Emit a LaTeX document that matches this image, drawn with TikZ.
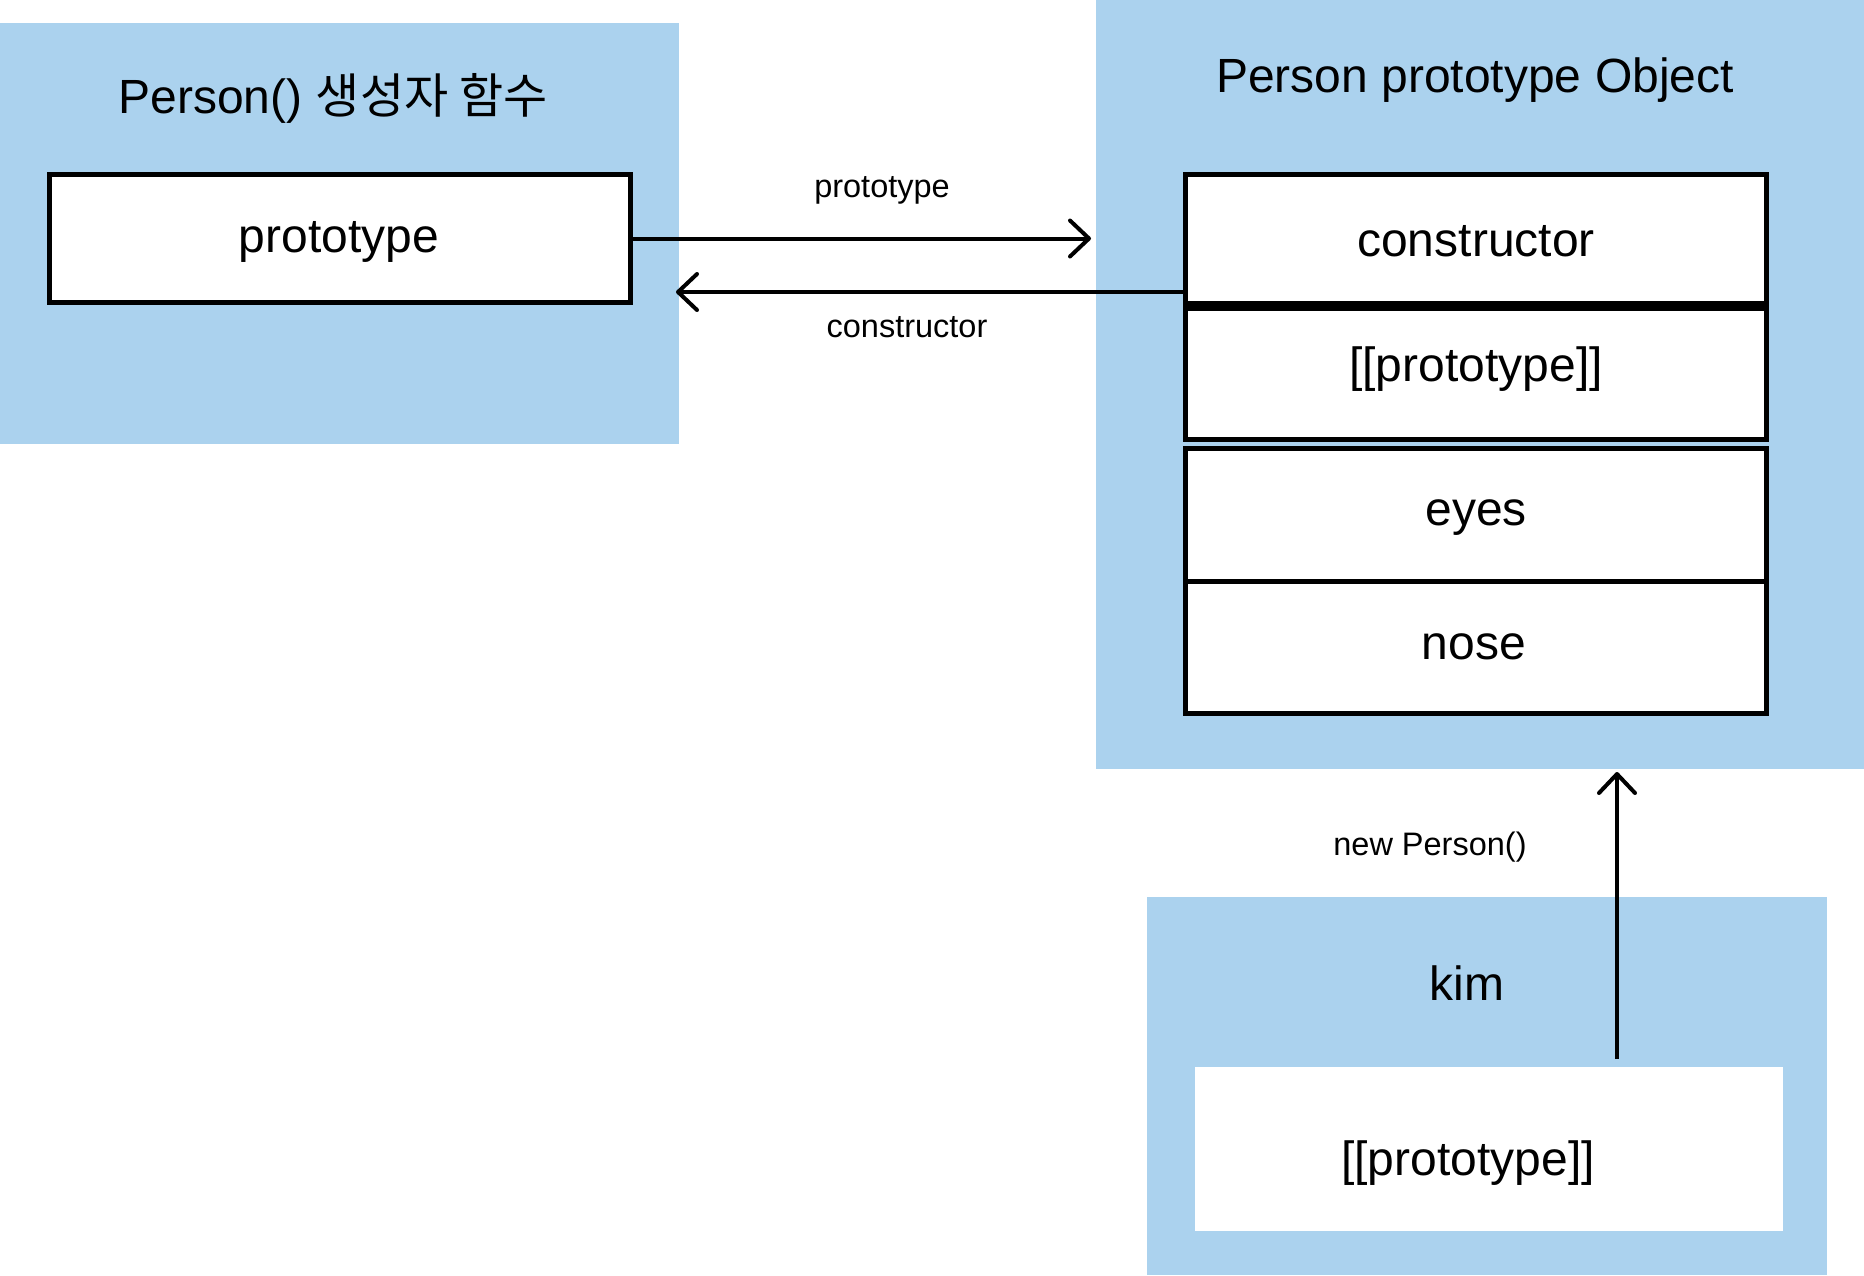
\documentclass[tikz,border=0pt]{standalone}
\usepackage{fontspec}
\setmainfont{Liberation Sans}
\newfontfamily\krfont{Noto Sans CJK KR}
\usetikzlibrary{arrows.meta}
\definecolor{panelblue}{RGB}{171,210,238}
\begin{document}
\begin{tikzpicture}[x=1pt,y=-1pt,
  panel/.style={fill=panelblue, draw=none, inner sep=0pt, outer sep=0pt},
  field/.style={draw=black, line width=5pt, fill=white, inner sep=0pt, outer sep=0pt},
  plainfield/.style={fill=white, draw=none, inner sep=0pt, outer sep=0pt},
  bigtext/.style={font=\fontsize{48}{58}\selectfont, anchor=base, inner sep=0pt},
  smalltext/.style={font=\fontsize{32.5}{39}\selectfont, anchor=base, inner sep=0pt},
  link/.style={line width=4pt, -{Straight Barb[length=19pt,width=36pt,round]}}
]
\useasboundingbox (0,0) rectangle (1864,1275);
% panels
\node[panel, minimum width=679pt, minimum height=421pt] (fnpanel) at (339.5,233.5) {};
\node[panel, minimum width=768pt, minimum height=769pt] (objpanel) at (1480,384.5) {};
\node[panel, minimum width=680pt, minimum height=378pt] (kimpanel) at (1487,1086) {};
% boxes
\node[field, minimum width=581pt, minimum height=128pt] (protobox) at (340,238.5) {};
\node[field, minimum width=581pt, minimum height=129pt] (ctorbox) at (1476,239) {};
\node[field, minimum width=581pt, minimum height=131pt] (protofield) at (1476,374) {};
\node[field, minimum width=581pt, minimum height=132.5pt] (eyesfield) at (1476,514.75) {};
\node[field, minimum width=581pt, minimum height=132.5pt] (nosefield) at (1476,647.25) {};
\node[plainfield, minimum width=588pt, minimum height=164pt] (kimfield) at (1489,1149) {};
% texts
\node[bigtext] (fntitle) at (333,113) {Person() {\krfont 생성자 함수}};
\node[bigtext] (prototext) at (339,252) {prototype};
\node[bigtext] (objtitle) at (1475,92) {Person prototype Object};
\node[bigtext] (ctortext) at (1476,256) {constructor};
\node[bigtext] (protofieldtext) at (1476,381) {[[prototype]]};
\node[bigtext] (eyestext) at (1476,525) {eyes};
\node[bigtext] (nosetext) at (1474,659) {nose};
\node[bigtext] (kimtitle) at (1467,1000) {kim};
\node[bigtext] (kimprototext) at (1468,1175) {[[prototype]]};
\node[smalltext] (plabel) at (882,197) {prototype};
\node[smalltext] (clabel) at (907,337) {constructor};
\node[smalltext] (nlabel) at (1430,855) {new Person()};
% connectors
\coordinate (ptip) at (1091,238.5);
\coordinate (cstart) at (1183,292);
\coordinate (ctip) at (676,292);
\coordinate (nstart) at (1617,1059);
\coordinate (ntip) at (1617,772);
\draw[link] (protobox.east) -- (ptip);
\draw[link] (cstart) -- (ctip);
\draw[link] (nstart) -- (ntip);
\end{tikzpicture}
\end{document}
